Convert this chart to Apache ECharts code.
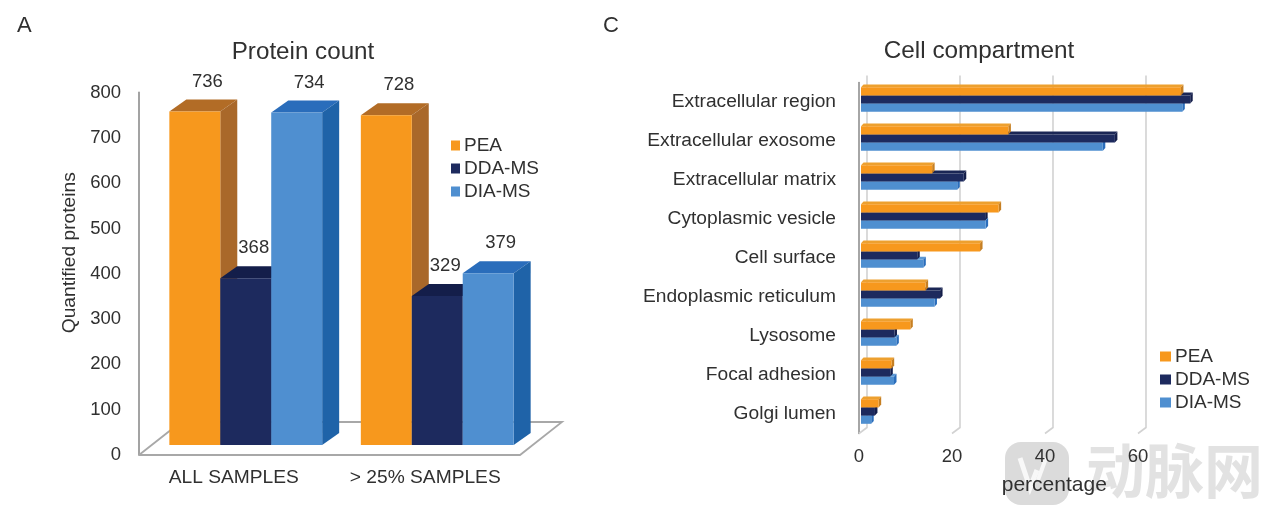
<!DOCTYPE html>
<html><head><meta charset="utf-8">
<style>html,body{margin:0;padding:0;background:#fff}#c{width:1269px;height:515px;filter:blur(0.45px)}</style>
<script src="https://cdn.jsdelivr.net/npm/echarts@6/dist/echarts.min.js"></script>
</head><body><div id="c"></div>
<script>
// ---- data ----
const countCategories = ['ALL SAMPLES', '> 25% SAMPLES'];
const countPEA = [736, 728];
const countDDA = [368, 329];
const countDIA = [734, 379];
const compartments = ['Extracellular region','Extracellular exosome','Extracellular matrix','Cytoplasmic vesicle','Cell surface','Endoplasmic reticulum','Lysosome','Focal adhesion','Golgi lumen'];
const pctPEA = [68.8, 31.7, 15.3, 29.6, 25.6, 13.9, 10.6, 6.6, 3.8];
const pctDDA = [70.8, 54.6, 22.1, 26.7, 12.1, 17.0, 7.2, 6.3, 3.0];
const pctDIA = [69.1, 52.0, 20.7, 26.8, 13.4, 15.8, 7.6, 7.1, 2.2];
const pctTicks = [0, 20, 40, 60];
const seriesNames = ['PEA', 'DDA-MS', 'DIA-MS'];
// ---- style ----
const front = ['#F7981D', '#1D2A5E', '#4F8FD0'];
const topFace = ['#B26C26', '#141E4A', '#2A6DBB'];
const sideFace = ['#A9682A', '#141E4A', '#1F63A8'];
const hTop = ['#EDA02F', '#1A2655', '#5C98D4'];
const hSide = ['#C67F22', '#141E4A', '#2A6DBB'];
const FONT = '"Liberation Sans", Arial, sans-serif';
const TXT = '#303030';

function bar3D(i) {
  return function (params, api) {
    const cat = api.value(0), v = api.value(1);
    const band = api.size([1, 0])[0];
    const w = band * 0.266;
    const dx = 17, dy = -12, lift = 10;
    const p = api.coord([cat, v]), b = api.coord([cat, 0]);
    const xL = p[0] + 11 + (i - 1.5) * w, xR = xL + w;
    const yT = p[1] - lift, yB = b[1] - lift;
    const labelDx = i === 1 ? 8 : 12.5;
    return { type: 'group', children: [
      { type: 'polygon', shape: { points: [[xL, yT], [xL + dx, yT + dy], [xR + dx, yT + dy], [xR, yT]] }, style: { fill: topFace[i] } },
      { type: 'polygon', shape: { points: [[xR, yT], [xR + dx, yT + dy], [xR + dx, yB + dy], [xR, yB]] }, style: { fill: sideFace[i] } },
      { type: 'rect', shape: { x: xL, y: yT, width: w, height: yB - yT }, style: { fill: front[i] } },
      { type: 'text', style: { x: xL + w / 2 + labelDx, y: yT - 30, text: String(v), fill: TXT, font: '18.5px ' + FONT, textAlign: 'center', textVerticalAlign: 'middle' }, z2: 100 }
    ]};
  };
}
function floorItem(params, api) {
  const g = params.coordSys;
  const L = g.x, R = g.x + g.width - 2, B = g.y + g.height;
  return { type: 'polyline', shape: { points: [[L, B], [R, B], [R + 42, B - 33], [L + 42, B - 33], [L, B]] },
    style: { fill: 'none', stroke: '#a8a8a8', lineWidth: 1.8 } };
}
function hbar3D(i) {
  return function (params, api) {
    const v = api.value(0), cat = api.value(1);
    const p = api.coord([v, cat]), o = api.coord([0, cat]);
    const h = 8.2, dx = 2.5, dy = -2.8;
    const yT = p[1] - 2.5 + (i - 1.5) * h, yB = yT + h;
    const xL = o[0] + 2, xR = p[0] + 2;
    return { type: 'group', children: [
      { type: 'polygon', shape: { points: [[xL, yT], [xL + dx, yT + dy], [xR + dx, yT + dy], [xR, yT]] }, style: { fill: hTop[i] } },
      { type: 'polygon', shape: { points: [[xR, yT], [xR + dx, yT + dy], [xR + dx, yB + dy], [xR, yB]] }, style: { fill: hSide[i] } },
      { type: 'rect', shape: { x: xL, y: yT, width: xR - xL, height: h }, style: { fill: front[i] } }
    ]};
  };
}
function wallLine(params, api) {
  const x = api.coord([api.value(0), 0])[0];
  const g = params.coordSys, B = g.y + g.height;
  return { type: 'polyline', shape: { points: [[x, B], [x + 8, B - 6], [x + 8, g.y - 7]] },
    style: { fill: 'none', stroke: '#d2d2d2', lineWidth: 1.6 } };
}
const pairs = (vals) => vals.map((v, k) => [k, v]);
const hpairs = (vals) => vals.map((v, k) => [v, k]);
const axisFont = { fontFamily: FONT, color: TXT, fontSize: 18.5 };
const catFont = { fontFamily: FONT, color: TXT, fontSize: 19.2 };

const option = {
  animation: false,
  backgroundColor: '#fff',
  title: [
    { text: 'Protein count', left: 298, top: 47, textAlign: 'center', textVerticalAlign: 'middle', textStyle: { fontFamily: FONT, fontWeight: 'normal', fontSize: 24.2, color: TXT } },
    { text: 'Cell compartment', left: 974, top: 46, textAlign: 'center', textVerticalAlign: 'middle', textStyle: { fontFamily: FONT, fontWeight: 'normal', fontSize: 24.3, color: TXT } }
  ],
  legend: [
    { data: seriesNames, orient: 'vertical', left: 446, top: 131, icon: 'rect', itemWidth: 9, itemHeight: 10, itemGap: 4, selectedMode: false, textStyle: { fontFamily: FONT, fontSize: 19, color: TXT, padding: [0,0,0,-1] } },
    { data: seriesNames, orient: 'vertical', left: 1155, top: 342, icon: 'rect', itemWidth: 11, itemHeight: 10, itemGap: 4, selectedMode: false, textStyle: { fontFamily: FONT, fontSize: 19, color: TXT, padding: [0,0,0,-1] } }
  ],
  grid: [
    { left: 139, top: 92.5, width: 383, height: 362.5, containLabel: false },
    { left: 859, top: 82.5, width: 390.6, height: 351, containLabel: false }
  ],
  xAxis: [
    { gridIndex: 0, type: 'category', data: countCategories, axisLine: { show: false }, axisTick: { show: false }, axisLabel: Object.assign({ margin: 13.5, interval: 0, padding: [0, 2, 0, 0] }, catFont) },
    { gridIndex: 1, type: 'value', min: 0, max: 84, name: 'percentage', nameLocation: 'middle', nameGap: 41, nameTextStyle: { fontFamily: FONT, color: TXT, fontSize: 21 },
      axisLine: { show: false }, axisTick: { show: false }, splitLine: { show: false },
      axisLabel: Object.assign({ margin: 14, customValues: pctTicks }, axisFont) }
  ],
  yAxis: [
    { gridIndex: 0, type: 'value', min: 0, max: 800, interval: 100, name: 'Quantified proteins', nameLocation: 'middle', nameGap: 60, nameTextStyle: { fontFamily: FONT, color: TXT, fontSize: 19.2, padding: [0, 0, 0, 42] },
      axisLine: { show: true, lineStyle: { color: '#999', width: 1.8 } }, axisTick: { show: false }, splitLine: { show: false },
      axisLabel: Object.assign({ margin: 18 }, axisFont) },
    { gridIndex: 1, type: 'category', inverse: true, data: compartments, axisLine: { show: true, lineStyle: { color: '#888', width: 1.5 } }, axisTick: { show: false },
      axisLabel: Object.assign({ margin: 23, interval: 0 }, catFont) }
  ],
  series: [
    { type: 'custom', name: 'floor', xAxisIndex: 0, yAxisIndex: 0, data: [[0, 0]], renderItem: floorItem, z: 1, silent: true },
    { type: 'custom', name: 'PEA', xAxisIndex: 0, yAxisIndex: 0, data: pairs(countPEA), renderItem: bar3D(0), itemStyle: { color: front[0] }, encode: { x: 0, y: 1 }, z: 2 },
    { type: 'custom', name: 'DDA-MS', xAxisIndex: 0, yAxisIndex: 0, data: pairs(countDDA), renderItem: bar3D(1), itemStyle: { color: front[1] }, encode: { x: 0, y: 1 }, z: 3 },
    { type: 'custom', name: 'DIA-MS', xAxisIndex: 0, yAxisIndex: 0, data: pairs(countDIA), renderItem: bar3D(2), itemStyle: { color: front[2] }, encode: { x: 0, y: 1 }, z: 4 },
    { type: 'custom', name: 'wall', xAxisIndex: 1, yAxisIndex: 1, data: pctTicks.map(t => [t, 0]), renderItem: wallLine, z: 1, silent: true },
    { type: 'custom', name: 'PEA', xAxisIndex: 1, yAxisIndex: 1, data: hpairs(pctPEA), renderItem: hbar3D(0), itemStyle: { color: front[0] }, encode: { x: 0, y: 1 }, z: 4 },
    { type: 'custom', name: 'DDA-MS', xAxisIndex: 1, yAxisIndex: 1, data: hpairs(pctDDA), renderItem: hbar3D(1), itemStyle: { color: front[1] }, encode: { x: 0, y: 1 }, z: 3 },
    { type: 'custom', name: 'DIA-MS', xAxisIndex: 1, yAxisIndex: 1, data: hpairs(pctDIA), renderItem: hbar3D(2), itemStyle: { color: front[2] }, encode: { x: 0, y: 1 }, z: 2 }
  ],
  graphic: [
    { type: 'text', left: 17, top: 15, style: { text: 'A', fill: TXT, font: '22px ' + FONT } },
    { type: 'text', left: 603, top: 15, style: { text: 'C', fill: TXT, font: '22px ' + FONT } },
    { type: 'rect', x: 1005, y: 442, shape: { width: 64, height: 63, r: 16 }, style: { fill: 'rgba(190,190,190,0.55)' }, z: -3 },
    { type: 'polyline', shape: { points: [[1020, 458], [1030, 488], [1037, 470]] }, style: { fill: 'none', stroke: 'rgba(255,255,255,0.8)', lineWidth: 5 }, z: -2 },
    { type: 'polyline', shape: { points: [[1046, 458], [1038, 480]] }, style: { fill: 'none', stroke: 'rgba(255,255,255,0.8)', lineWidth: 4 }, z: -2 },
    { type: 'text', left: 1086, top: 441, style: { text: '动脉网', fill: 'rgba(175,175,175,0.36)', font: 'bold 59px "Noto Sans CJK SC"' }, z: -3 }
  ]
};
const chart = echarts.init(document.getElementById('c'));
chart.setOption(option);
</script></body></html>
